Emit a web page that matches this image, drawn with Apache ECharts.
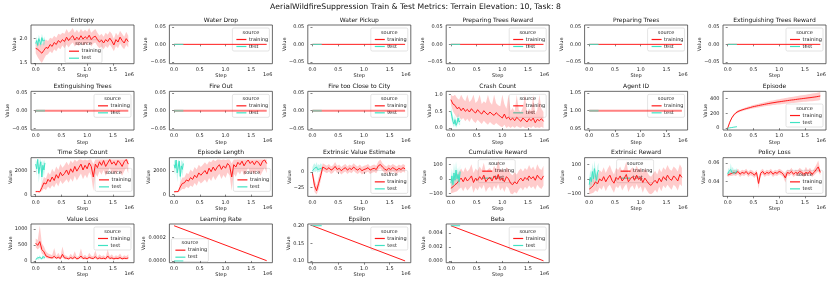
<!DOCTYPE html>
<html><head><meta charset="utf-8">
<script src="https://cdn.jsdelivr.net/npm/echarts@6/dist/echarts.min.js"></script>
<style>html,body{margin:0;padding:0;background:#fff}#c{width:831px;height:283px}</style>
</head><body><div id="c"></div><script>
const mainTitle = 'AerialWildfireSuppression Train & Test Metrics: Terrain Elevation: 10, Task: 8';
const xTicks = [0, 0.5, 1.0, 1.5];
const trainStep = [0,0.04,0.08,0.12,0.16,0.20,0.24,0.28,0.32,0.36,0.40,0.44,0.48,0.52,0.56,0.60,0.64,0.68,0.72,0.76,0.80,0.84,0.88,0.92,0.96,1.00,1.04,1.08,1.12,1.16,1.20,1.24,1.28,1.32,1.36,1.40,1.44,1.48,1.52,1.56,1.60,1.64,1.68,1.72,1.76,1.80];
const testStep = [0,0.02,0.04,0.06,0.08,0.10,0.12,0.14,0.16,0.18];
const flatTrainStep = [0, 1.80];
const flatTestStep = [0, 0.18];
const zeroTrain = [0, 0];
const zeroTest = [0, 0];
const agentTrain = [1, 1];
const agentTest = [1, 1];

const entropyTrain = [1.80,1.78,1.74,1.70,1.76,1.82,1.80,1.88,1.84,1.92,1.88,1.96,1.92,1.98,1.94,2.03,1.96,2.02,2.06,1.97,2.03,1.98,2.06,1.99,2.04,2.00,2.07,1.98,2.03,2.05,1.98,1.93,1.97,1.91,1.98,1.94,2.01,1.95,1.87,1.98,1.93,2.03,1.96,1.91,2.00,1.94];
const entropyTrainLo = [1.70,1.62,1.55,1.50,1.58,1.66,1.68,1.74,1.70,1.78,1.74,1.82,1.78,1.86,1.80,1.88,1.82,1.88,1.92,1.84,1.88,1.85,1.92,1.86,1.90,1.87,1.93,1.84,1.90,1.92,1.85,1.80,1.84,1.78,1.85,1.81,1.88,1.82,1.74,1.85,1.80,1.90,1.83,1.78,1.87,1.82];
const entropyTrainHi = [1.90,1.92,1.90,1.88,1.94,1.98,1.95,2.02,2.00,2.06,2.02,2.10,2.08,2.12,2.10,2.20,2.12,2.16,2.22,2.12,2.18,2.12,2.20,2.14,2.18,2.14,2.22,2.12,2.16,2.20,2.12,2.06,2.10,2.04,2.12,2.08,2.15,2.10,2.00,2.12,2.06,2.16,2.10,2.04,2.14,2.06];
const entropyTest = [1.90,1.96,1.86,2.00,1.94,1.88,2.02,1.95,1.91,1.97];
const entropyTestLo = [1.84,1.89,1.80,1.93,1.87,1.82,1.95,1.88,1.85,1.90];
const entropyTestHi = [1.97,2.04,1.94,2.08,2.02,1.96,2.10,2.03,1.99,2.05];

const crashTrain = [0.85,0.72,0.68,0.58,0.62,0.52,0.60,0.50,0.56,0.48,0.58,0.50,0.45,0.55,0.47,0.42,0.52,0.45,0.40,0.48,0.42,0.38,0.46,0.40,0.35,0.30,0.42,0.28,0.33,0.24,0.30,0.22,0.32,0.26,0.20,0.30,0.24,0.18,0.28,0.22,0.30,0.16,0.26,0.22,0.28,0.20];
const crashTrainLo = [0.70,0.50,0.40,0.30,0.35,0.25,0.30,0.20,0.28,0.18,0.30,0.20,0.15,0.25,0.18,0.12,0.22,0.15,0.10,0.18,0.12,0.08,0.15,0.10,0.05,0.02,0.10,0.00,0.05,0.00,0.05,0.00,0.06,0.02,0.00,0.05,0.00,0.00,0.04,0.00,0.06,0.00,0.02,0.00,0.04,0.00];
const crashTrainHi = [1.00,0.95,1.00,0.90,0.85,1.00,0.88,0.80,1.00,0.78,0.85,1.00,0.75,0.82,1.00,0.72,0.80,0.75,1.00,0.78,0.70,1.00,0.74,0.68,0.65,1.00,0.72,0.58,1.00,0.52,0.60,0.50,1.00,0.55,0.48,0.62,1.00,0.45,0.58,0.50,1.00,0.42,0.55,1.00,0.58,0.48];
const crashTest = [0.50,0.35,0.20,0.12,0.25,0.08,0.15,0.30,0.18,0.22];
const crashTestLo = [0.35,0.20,0.08,0.02,0.12,0.00,0.05,0.18,0.08,0.10];
const crashTestHi = [0.65,0.50,0.35,0.25,0.40,0.20,0.28,0.45,0.30,0.35];

const episodeTrain = [0,80,140,180,208,226,238,248,257,265,273,280,289,295,301,307,313,319,324,330,335,340,345,349,354,358,362,366,370,374,378,382,385,389,393,397,400,404,407,411,414,418,422,426,431,437];
const episodeTrainLo = [0,72,128,166,192,210,222,231,239,246,253,259,267,272,277,282,287,292,296,301,305,309,313,316,320,323,326,329,332,335,338,341,343,346,349,352,354,357,359,362,364,367,370,373,377,382];
const episodeTrainHi = [0,88,152,194,224,242,254,265,275,284,293,301,311,318,325,332,339,346,352,359,365,371,377,382,388,393,398,403,408,413,418,423,427,432,437,442,446,451,455,460,464,469,474,479,485,492];
const episodeTest = [0,2,5,7,9,12,14,16,18,20];

const tscTrain = [250,260,240,600,1000,900,1300,1100,1500,1200,1700,1400,1900,1600,1800,2100,1700,2200,1900,2400,2000,2300,2600,2100,2500,2200,2700,2400,1500,2600,2300,2800,2500,2900,2400,2700,3000,2600,2800,2500,2900,2700,2400,2800,3000,2600];
const tscTrainLo = [200,200,180,300,500,400,700,500,800,600,1000,700,1200,900,1100,1300,1000,1400,1100,1600,1200,1500,1800,1300,1700,1400,1900,1600,300,1800,1500,2000,1700,2100,1600,1900,2300,1800,2000,1700,2100,1900,1600,2000,2300,1800];
const tscTrainHi = [320,330,300,1000,1500,1400,1900,1700,2200,1900,2400,2100,2600,2300,2500,2800,2500,2900,2700,3000,2800,3000,3000,2900,3000,2900,3000,3000,2600,3000,3000,3000,3000,3000,3000,3000,3000,3000,3000,3000,3000,3000,3000,3000,3000,3000];
const tscTest = [2600,2200,3000,1800,2400,2800,1500,2500,2100,2700];
const tscTestLo = [2200,1600,2600,1000,1800,2300,900,2000,1500,2200];
const tscTestHi = [3000,2800,3000,2500,3000,3000,2200,3000,2700,3000];

const eplenTrain = [240,250,260,650,950,1000,1250,1150,1450,1300,1650,1450,1850,1650,1850,2050,1750,2250,1950,2350,2050,2350,2550,2150,2450,2250,2650,2450,1500,2550,2350,2750,2550,2850,2450,2750,2950,2650,2850,2550,2850,2750,2450,2850,2950,2650];
const eplenTrainLo = [190,200,190,320,480,450,680,550,780,650,980,750,1180,950,1100,1280,1020,1420,1150,1580,1230,1520,1780,1320,1680,1420,1880,1620,320,1780,1520,1980,1720,2080,1620,1880,2280,1820,1980,1720,2080,1920,1620,1980,2280,1820];
const eplenTrainHi = [310,320,320,1050,1450,1450,1850,1750,2150,1950,2350,2150,2550,2350,2550,2750,2550,2850,2750,3000,2850,3000,3000,2950,3000,2950,3000,3000,2650,3000,3000,3000,3000,3000,3000,3000,3000,3000,3000,3000,3000,3000,3000,3000,3000,3000];
const eplenTest = [2550,2250,2950,1850,2350,2850,1550,2450,2150,2650];
const eplenTestLo = [2150,1650,2550,1050,1750,2350,950,1950,1550,2150];
const eplenTestHi = [3000,2850,3000,2550,2950,3000,2250,3000,2750,3000];

const eveTrain = [-3,-22,-30,-18,-6,8,6,4,7,3,5,9,4,6,2,5,7,3,6,4,8,5,3,6,2,4,5,7,3,5,6,4,10,12,8,5,3,6,4,7,5,3,6,4,7,5];
const eveTrainLo = [-8,-32,-36,-28,-14,2,0,-2,1,-3,-1,3,-2,0,-4,-1,1,-3,0,-2,2,-1,-3,0,-4,-2,-1,1,-3,-1,0,-2,4,6,2,-1,-3,0,-2,1,-1,-3,0,-2,1,-1];
const eveTrainHi = [2,-12,-22,-8,2,14,12,10,13,9,11,16,10,12,8,11,13,9,12,10,14,11,9,12,8,10,11,13,9,11,12,10,17,20,14,11,9,12,10,13,11,9,12,10,13,11];
const eveTest = [2,4,6,5,8,4,6,5,7,6];
const eveTestLo = [-2,0,1,0,2,-1,1,0,2,1];
const eveTestHi = [8,12,14,11,16,10,13,11,14,12];

const cumTrain = [-65,-55,-40,-30,-10,5,-20,10,-15,0,20,-25,5,-10,15,-5,25,-20,0,10,-15,20,-5,30,-10,5,-20,15,0,-30,-40,-20,-35,-10,5,-15,10,-5,20,0,15,-10,25,5,-5,20];
const cumTrainLo = [-100,-95,-90,-85,-70,-60,-85,-55,-80,-65,-45,-95,-60,-80,-50,-70,-40,-90,-65,-55,-85,-45,-70,-35,-80,-60,-90,-50,-65,-100,-105,-90,-100,-75,-60,-80,-55,-70,-45,-65,-50,-75,-40,-60,-70,-45];
const cumTrainHi = [-20,0,20,30,50,70,45,80,50,65,100,40,70,55,85,60,110,45,65,75,50,90,60,130,55,70,45,80,65,35,25,45,30,55,70,50,75,60,95,65,85,55,100,70,60,90];
const cumTest = [-30,20,-40,40,-10,60,0,30,-20,50];
const cumTestLo = [-80,-30,-90,-10,-60,10,-50,-20,-70,0];
const cumTestHi = [20,70,10,110,40,120,50,80,30,100];

const extTrain = [-70,-60,-45,-20,-35,0,-15,15,-20,5,25,-10,-30,10,-5,20,-15,5,30,-20,0,15,-10,25,-5,10,-25,5,-15,-35,-45,-25,-10,-30,5,-20,15,-5,25,0,-10,20,5,-15,30,10];
const extTrainLo = [-105,-100,-95,-80,-90,-60,-75,-45,-85,-55,-40,-70,-95,-50,-65,-40,-80,-55,-35,-90,-60,-45,-75,-35,-70,-50,-95,-55,-80,-100,-105,-95,-75,-95,-55,-85,-45,-65,-40,-60,-75,-40,-55,-80,-35,-50];
const extTrainHi = [-30,-10,10,40,20,60,45,80,40,70,95,55,30,75,60,85,50,70,120,40,65,80,55,90,60,75,40,70,50,25,15,35,55,30,70,45,80,60,95,65,55,85,70,50,100,75];
const extTest = [-40,10,-20,50,0,70,20,-10,40,60];
const extTestLo = [-90,-40,-70,0,-50,20,-30,-60,-10,10];
const extTestHi = [10,60,30,110,50,125,70,40,90,110];

const policyTrain = [0.047,0.048,0.049,0.050,0.049,0.051,0.048,0.050,0.049,0.051,0.048,0.050,0.049,0.047,0.050,0.038,0.049,0.051,0.048,0.050,0.049,0.051,0.048,0.050,0.049,0.051,0.050,0.048,0.044,0.050,0.049,0.051,0.048,0.050,0.049,0.051,0.050,0.048,0.050,0.049,0.051,0.048,0.050,0.053,0.056,0.050];
const policyTrainLo = [0.045,0.046,0.046,0.047,0.046,0.048,0.045,0.047,0.046,0.048,0.045,0.047,0.046,0.044,0.047,0.032,0.046,0.048,0.045,0.047,0.046,0.048,0.045,0.047,0.046,0.048,0.047,0.045,0.039,0.047,0.046,0.048,0.045,0.047,0.046,0.048,0.047,0.045,0.047,0.046,0.048,0.045,0.047,0.049,0.051,0.047];
const policyTrainHi = [0.050,0.051,0.052,0.053,0.052,0.054,0.051,0.053,0.052,0.054,0.051,0.053,0.052,0.050,0.053,0.044,0.052,0.054,0.051,0.053,0.052,0.054,0.051,0.053,0.052,0.054,0.053,0.051,0.049,0.053,0.052,0.055,0.051,0.053,0.052,0.055,0.053,0.051,0.056,0.052,0.055,0.051,0.054,0.058,0.063,0.053];
const policyTest = [0.048,0.051,0.049,0.053,0.050,0.052,0.049,0.051,0.050,0.052];
const policyTestLo = [0.046,0.049,0.047,0.050,0.048,0.050,0.047,0.049,0.048,0.050];
const policyTestHi = [0.051,0.055,0.053,0.060,0.054,0.056,0.052,0.054,0.053,0.055];

const vlossTrain = [550,480,600,350,280,150,120,100,90,140,80,110,70,200,90,80,60,100,70,120,60,80,150,70,90,60,110,80,70,130,60,90,70,80,60,150,70,90,60,80,70,100,60,80,70,90];
const vlossTrainLo = [420,350,420,220,180,90,70,60,50,80,45,60,40,100,50,45,30,55,40,60,30,45,70,40,50,30,60,45,40,65,30,50,40,45,30,70,40,50,30,45,40,55,30,45,40,50];
const vlossTrainHi = [700,650,1100,550,450,300,230,200,170,400,150,250,130,450,180,160,120,220,140,300,120,160,380,140,190,120,250,160,140,320,120,200,140,170,120,350,140,200,120,170,140,230,120,170,140,200];
const vlossTest = [40,60,90,50,110,70,60,130,80,100];
const vlossTestLo = [20,30,50,25,60,40,30,70,45,55];
const vlossTestHi = [70,100,150,90,180,110,100,200,130,160];

const lrTrain = [0.0003, 0.000002];
const lrTest = [0, 0];
const epsTrain = [0.2, 0.1];
const epsTest = [0.2, 0.2];
const betaTrain = [0.005, 0.00002];
const betaTest = [0.005, 0.005];

const FONT = 'DejaVu Sans';
const RED = '#ff1a1a', TEAL = '#3fe3c3';
const RED_BAND = 'rgba(255,0,0,0.2)', TEAL_BAND = 'rgba(64,224,200,0.3)';

function S(x, y, lo, hi) { return {x, y, lo, hi}; }
const zeroYT = [-0.05, 0, 0.05];
const panels = [
  {t:'Entropy', c:0, r:0, min:1.485, max:2.28, ticks:[1.5,2.0], d:1, gap:13.5, tr:S(trainStep,entropyTrain,entropyTrainLo,entropyTrainHi), te:S(testStep,entropyTest,entropyTestLo,entropyTestHi), leg:'lc'},
  {t:'Water Drop', c:1, r:0, min:-0.055, max:0.055, ticks:zeroYT, d:2, gap:20.8, tr:S(flatTrainStep,zeroTrain), te:S(flatTestStep,zeroTest), leg:'ur'},
  {t:'Water Pickup', c:2, r:0, min:-0.055, max:0.055, ticks:zeroYT, d:2, gap:20.8, tr:S(flatTrainStep,zeroTrain), te:S(flatTestStep,zeroTest), leg:'ur'},
  {t:'Preparing Trees Reward', c:3, r:0, min:-0.055, max:0.055, ticks:zeroYT, d:2, gap:20.8, tr:S(flatTrainStep,zeroTrain), te:S(flatTestStep,zeroTest), leg:'ur'},
  {t:'Preparing Trees', c:4, r:0, min:-0.055, max:0.055, ticks:zeroYT, d:2, gap:20.8, tr:S(flatTrainStep,zeroTrain), te:S(flatTestStep,zeroTest), leg:'ur'},
  {t:'Extinguishing Trees Reward', c:5, r:0, min:-0.055, max:0.055, ticks:zeroYT, d:2, gap:20.8, tr:S(flatTrainStep,zeroTrain), te:S(flatTestStep,zeroTest), leg:'ur'},
  {t:'Extinguishing Trees', c:0, r:1, min:-0.055, max:0.055, ticks:zeroYT, d:2, gap:20.8, tr:S(flatTrainStep,zeroTrain), te:S(flatTestStep,zeroTest), leg:'ur', pale:true},
  {t:'Fire Out', c:1, r:1, min:-0.055, max:0.055, ticks:zeroYT, d:2, gap:20.8, tr:S(flatTrainStep,zeroTrain), te:S(flatTestStep,zeroTest), leg:'ur', pale:true},
  {t:'Fire too Close to City', c:2, r:1, min:-0.055, max:0.055, ticks:zeroYT, d:2, gap:20.8, tr:S(flatTrainStep,zeroTrain), te:S(flatTestStep,zeroTest), leg:'ur', pale:true},
  {t:'Crash Count', c:3, r:1, min:-0.06, max:1.1, ticks:[0,0.5,1.0], d:1, gap:13.5, tr:S(trainStep,crashTrain,crashTrainLo,crashTrainHi), te:S(testStep,crashTest,crashTestLo,crashTestHi), leg:'ur'},
  {t:'Agent ID', c:4, r:1, min:0.945, max:1.055, ticks:[0.95,1.00,1.05], d:2, gap:16.6, tr:S(flatTrainStep,agentTrain), te:S(flatTestStep,agentTest), leg:'ur', pale:true},
  {t:'Episode', c:5, r:1, min:-25, max:500, ticks:[0,200,400], d:0, gap:15, tr:S(trainStep,episodeTrain,episodeTrainLo,episodeTrainHi), te:S(testStep,episodeTest), leg:'lr'},
  {t:'Time Step Count', c:0, r:2, min:-150, max:3150, ticks:[0,2000], d:0, gap:18.2, tr:S(trainStep,tscTrain,tscTrainLo,tscTrainHi), te:S(testStep,tscTest,tscTestLo,tscTestHi), leg:'lr2'},
  {t:'Episode Length', c:1, r:2, min:-150, max:3150, ticks:[0,2000], d:0, gap:18.2, tr:S(trainStep,eplenTrain,eplenTrainLo,eplenTrainHi), te:S(testStep,eplenTest,eplenTestLo,eplenTestHi), leg:'lr2'},
  {t:'Extrinsic Value Estimate', c:2, r:2, min:-39, max:23, ticks:[-25,0], d:0, gap:16, tr:S(trainStep,eveTrain,eveTrainLo,eveTrainHi), te:S(testStep,eveTest,eveTestLo,eveTestHi), leg:'lr'},
  {t:'Cumulative Reward', c:3, r:2, min:-120, max:145, ticks:[-100,0,100], d:0, gap:19.2, tr:S(trainStep,cumTrain,cumTrainLo,cumTrainHi), te:S(testStep,cumTest,cumTestLo,cumTestHi), leg:'uc'},
  {t:'Extrinsic Reward', c:4, r:2, min:-120, max:145, ticks:[-100,0,100], d:0, gap:19.2, tr:S(trainStep,extTrain,extTrainLo,extTrainHi), te:S(testStep,extTest,extTestLo,extTestHi), leg:'uc'},
  {t:'Policy Loss', c:5, r:2, min:0.024, max:0.066, ticks:[0.04,0.06], d:2, gap:16.6, tr:S(trainStep,policyTrain,policyTrainLo,policyTrainHi), te:S(testStep,policyTest,policyTestLo,policyTestHi), leg:'lr'},
  {t:'Value Loss', c:0, r:3, min:-60, max:1150, ticks:[0,500,1000], d:0, gap:18.2, tr:S(trainStep,vlossTrain,vlossTrainLo,vlossTrainHi), te:S(testStep,vlossTest,vlossTestLo,vlossTestHi), leg:'ur'},
  {t:'Learning Rate', c:1, r:3, min:-0.000015, max:0.000315, ticks:[0,0.0002], d:4, gap:23, tr:S(flatTrainStep,lrTrain), te:S(flatTestStep,lrTest), leg:'ll'},
  {t:'Epsilon', c:2, r:3, min:0.095, max:0.205, ticks:[0.10,0.15,0.20], d:2, gap:16.6, tr:S(flatTrainStep,epsTrain), te:S(flatTestStep,epsTest), leg:'ur'},
  {t:'Beta', c:3, r:3, min:-0.00025, max:0.00525, ticks:[0,0.002,0.004], d:3, gap:19.8, tr:S(flatTrainStep,betaTrain), te:S(flatTestStep,betaTest), leg:'ur'}
];

const grids = [], xAxes = [], yAxes = [], series = [], graphics = [];
const titles = [{text: mainTitle, left: 415.5, top: 3, textAlign: 'center', padding: 0,
  textStyle: {fontFamily: FONT, fontSize: 7.7, fontWeight: 'normal', color: '#111'}}];
const tickStyle = {color: '#333', width: 0.6};
const lblStyle = {fontSize: 5, fontFamily: FONT, color: '#222'};

function fmt(v, d) { return (v < 0 ? '\u2212' : '') + Math.abs(v).toFixed(d); }

function legend(p, L, T, W, H) {
  const w = 37, h = 23;
  let x, y;
  if (p.leg === 'ur') { x = L + W - 3 - w; y = T + 3; }
  else if (p.leg === 'lr') { x = L + W - 3 - w; y = T + H - 3 - h; }
  else if (p.leg === 'lr2') { x = L + W - 2 - w; y = T + H - 5 - h; }
  else if (p.leg === 'lc') { x = L + 34; y = T + H - 1 - h; }
  else if (p.leg === 'uc') { x = L + 32; y = T + 2; }
  else { x = L + 2; y = T + H - 1 - h; }
  const ts = (t, tx, ty, al) => ({type: 'text', x: tx, y: ty, style: {text: t, fontSize: 5, fontFamily: FONT, fill: '#222', align: al, verticalAlign: 'middle'}});
  return {type: 'group', x, y, z: 100, children: [
    {type: 'rect', shape: {x: 0, y: 0, width: w, height: h, r: 1.5}, style: {fill: 'rgba(255,255,255,0.8)', stroke: '#d2d2d2', lineWidth: 0.6}},
    ts('source', w / 2, 4.5, 'center'),
    {type: 'line', shape: {x1: 4, y1: 11.5, x2: 14, y2: 11.5}, style: {stroke: RED, lineWidth: 1.2}},
    ts('training', 16.5, 11.5, 'left'),
    {type: 'line', shape: {x1: 4, y1: 18.5, x2: 14, y2: 18.5}, style: {stroke: TEAL, lineWidth: 1.2}},
    ts('test', 16.5, 18.5, 'left')
  ]};
}

// confidence band drawn as one polygon through the axis scales (api.coord)
function bandSeries(i, d, color) {
  series.push({type: 'custom', xAxisIndex: i, yAxisIndex: i, silent: true, z: 1, clip: true,
    data: [[d.x[0], d.lo[0]]],
    renderItem: (params, api) => {
      const up = d.x.map((x, k) => api.coord([x, d.hi[k]]));
      const dn = d.x.map((x, k) => api.coord([x, d.lo[k]])).reverse();
      return {type: 'polygon', shape: {points: up.concat(dn)}, style: {fill: color}};
    }});
}

function addSeries(i, d, color, band, tag, pale) {
  if (d.lo) bandSeries(i, d, band);
  series.push({type: 'line', name: tag, xAxisIndex: i, yAxisIndex: i, data: d.x.map((x, k) => [x, d.y[k]]),
    symbol: 'none', lineStyle: {color: color, width: pale ? 2 : 1, opacity: pale ? 0.55 : 1}, z: 2});
}

panels.forEach((p, i) => {
  const L = 31 + 138.4 * p.c, T = 25 + 66.33 * p.r, W = 103, H = 38.7;
  grids.push({left: L, top: T, width: W, height: H, show: true, borderColor: '#444', borderWidth: 0.8,
    backgroundColor: '#fff', containLabel: false, outerBoundsMode: 'none'});
  xAxes.push({type: 'value', gridIndex: i, min: -0.091, max: 1.911,
    axisLine: {show: false}, splitLine: {show: false},
    axisTick: {show: true, length: 2, lineStyle: tickStyle, customValues: xTicks},
    axisLabel: Object.assign({customValues: xTicks, formatter: v => v.toFixed(1), margin: 3.5}, lblStyle),
    name: 'Step', nameLocation: 'middle', nameGap: 10, nameMoveOverlap: false, nameTextStyle: lblStyle});
  yAxes.push({type: 'value', gridIndex: i, min: p.min, max: p.max,
    axisLine: {show: false}, splitLine: {show: false},
    axisTick: {show: true, length: 2, lineStyle: tickStyle, customValues: p.ticks},
    axisLabel: Object.assign({customValues: p.ticks, formatter: v => fmt(v, p.d), margin: 3.5}, lblStyle),
    name: 'Value', nameLocation: 'middle', nameRotate: 90, nameGap: p.gap, nameMoveOverlap: false, nameTextStyle: lblStyle});
  titles.push({text: p.t, left: L + W / 2, top: T - 8, textAlign: 'center', padding: 0,
    textStyle: {fontFamily: FONT, fontSize: 6, fontWeight: 'normal', color: '#111'}});
  graphics.push({type: 'text', x: L + W, y: T + H + 11, z: 50,
    style: {text: '1e6', fontSize: 5, fontFamily: FONT, fill: '#222', align: 'right', verticalAlign: 'middle'}});
  graphics.push(legend(p, L, T, W, H));
  addSeries(i, p.tr, RED, RED_BAND, 'training', p.pale);
  addSeries(i, p.te, TEAL, TEAL_BAND, 'test', p.pale);
});

const chart = echarts.init(document.getElementById('c'), null, {renderer: 'canvas'});
chart.setOption({
  animation: false,
  backgroundColor: '#fff',
  title: titles,
  grid: grids, xAxis: xAxes, yAxis: yAxes, series: series, graphic: graphics
});
</script></body></html>
